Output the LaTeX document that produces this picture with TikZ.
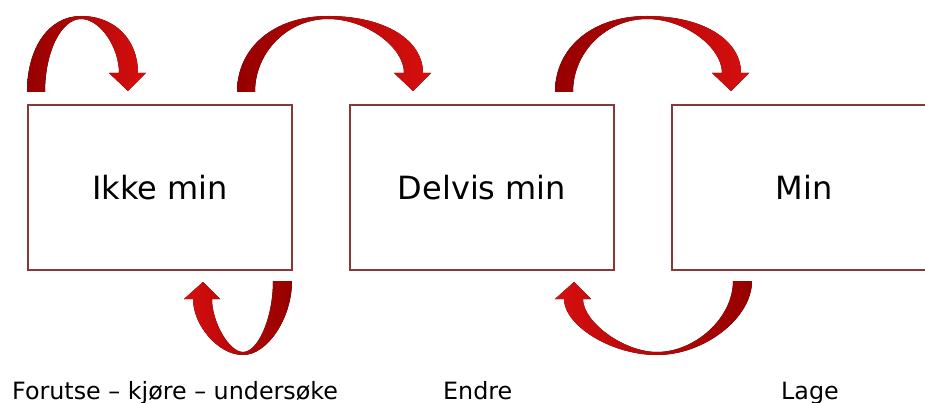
\documentclass[tikz,border=0pt]{standalone}
\usepackage{fontspec}
\setmainfont{DejaVu Sans}
\begin{document}
\begin{tikzpicture}[x=1pt,y=-1pt,
  stagebox/.style={draw=boxline,line width=1.1pt,minimum width=264pt,minimum height=165pt,inner sep=0pt,font=\fontsize{32}{38}\selectfont},
  caption/.style={anchor=base west,inner sep=0pt,font=\fontsize{23.8}{28}\selectfont},
  ribbondown/.style={left color=ribdark,right color=ribbright,draw=none},
  ribbonup/.style={left color=ribbright,right color=ribdark,draw=none}]
\definecolor{boxline}{RGB}{140,55,55}
\definecolor{ribdark}{RGB}{150,0,0}
\definecolor{ribbright}{RGB}{215,15,15}
\useasboundingbox (0,0) rectangle (925,403);

% three stages
\node[stagebox] (ikke)   at (160,187.5) {Ikke min};
\node[stagebox] (delvis) at (482,187.5) {Delvis min};
\node[stagebox] (min)    at (804,187.5) {Min};

% captions under the stages
\node[caption] (cap1) at (12,399) {Forutse – kjøre – undersøke};
\node[caption] (cap2) at (443,399) {Endre};
\node[caption] (cap3) at (781,399) {Lage};

% ribbon arrows over the boxes: \toparrow{base x}{apex x}{tip x}
\newcommand{\toparrow}[3]{%
  \fill[ribbondown]
    (#1,92) .. controls (#1,48) and ({#2-0.6*(#2-#1)},16) .. (#2,16)
    .. controls ({#2+0.6*(#3+10-#2)},16) and (#3+10,40) .. (#3+10,73)
    -- (#3+18,73) -- (#3,91) -- (#3-19,73) -- (#3-9,73)
    .. controls (#3-9,47) and ({#2+0.5*(#3-9-#2)},19) .. (#2,19)
    .. controls ({#2-0.55*(#2-#1-18)},19) and (#1+18,52) .. (#1+18,92)
    -- cycle;}
% ribbon arrows under the boxes: \botarrow{base x}{apex x}{tip x}
\newcommand{\botarrow}[3]{%
  \fill[ribbonup]
    (#1,281) .. controls (#1,318) and ({#2+0.5*(#1-#2)},355) .. (#2,355)
    .. controls ({#2-0.5*(#2-#3+10)},355) and (#3-10,325) .. (#3-10,299)
    -- (#3-19,299) -- (#3,282) -- (#3+17,299) -- (#3+9,299)
    .. controls (#3+9,322) and ({#2-0.45*(#2-#3-9)},352) .. (#2,352)
    .. controls ({#2+0.5*(#1-19-#2)},352) and (#1-19,318) .. (#1-19,281)
    -- cycle;}

\toparrow{27}{81}{128}
\toparrow{237}{328}{413}
\toparrow{555}{647}{731}
\botarrow{292}{243}{203}
\botarrow{752}{657}{574}
\end{tikzpicture}
\end{document}
